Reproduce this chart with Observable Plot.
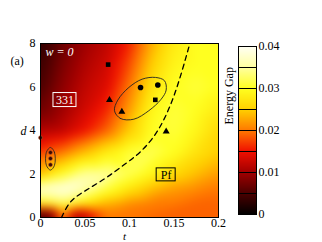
<!DOCTYPE html>
<html><head><meta charset="utf-8">
<script src="https://cdn.jsdelivr.net/npm/d3@7"></script>
<script src="https://cdn.jsdelivr.net/npm/@observablehq/plot@0.6"></script>
<style>
html,body{margin:0;padding:0;background:#fff;}
#wrap{position:relative;width:322px;height:242px;overflow:hidden;}
#wrap svg{position:absolute;top:0;}
</style></head>
<body><div id="wrap"></div>
<script>
// ---- data ----
const tGrid = [0, 0.025, 0.05, 0.075, 0.1, 0.125, 0.15, 0.175, 0.2];
const dRows = [8, 7, 6, 5, 4, 3, 2, 1.3, 0.6];
const gapD8   = [0.003, 0.007, 0.010, 0.012, 0.016, 0.023, 0.028, 0.030, 0.030];
const gapD7   = [0.004, 0.008, 0.011, 0.013, 0.018, 0.025, 0.029, 0.030, 0.030];
const gapD6   = [0.005, 0.009, 0.012, 0.014, 0.020, 0.027, 0.030, 0.031, 0.030];
const gapD5   = [0.007, 0.010, 0.013, 0.016, 0.022, 0.029, 0.031, 0.030, 0.028];
const gapD4   = [0.011, 0.012, 0.015, 0.019, 0.025, 0.030, 0.031, 0.029, 0.026];
const gapD3   = [0.017, 0.020, 0.024, 0.028, 0.031, 0.032, 0.030, 0.027, 0.025];
const gapD2   = [0.024, 0.030, 0.035, 0.035, 0.032, 0.029, 0.026, 0.024, 0.022];
const gapD13  = [0.038, 0.039, 0.036, 0.031, 0.027, 0.024, 0.022, 0.021, 0.020];
const gapD06  = [0.029, 0.032, 0.027, 0.023, 0.021, 0.020, 0.020, 0.019, 0.019];
const tBottom = [0, 0.0125, 0.025, 0.0375, 0.05, 0.0625, 0.075, 0.1, 0.125, 0.15, 0.175, 0.2];
const gapD03  = [0.008, 0.010, 0.026, 0.015, 0.015, 0.019, 0.021, 0.020, 0.020, 0.019, 0.019, 0.019];
const gapD0   = [0.005, 0.006, 0.020, 0.010, 0.011, 0.016, 0.020, 0.020, 0.019, 0.019, 0.019, 0.019];

const boundaryT = [0.0236, 0.0318, 0.0412, 0.0562, 0.0749, 0.0974, 0.1124, 0.1273, 0.1386, 0.1498, 0.1592, 0.1674];
const boundaryD = [0, 0.69, 1.0, 1.38, 1.84, 2.53, 2.99, 3.68, 4.45, 5.52, 6.74, 7.94];

const loopT = [0.0831, 0.0899, 0.1049, 0.1217, 0.1356, 0.1412, 0.1393, 0.1292, 0.1142, 0.0993, 0.0869];
const loopD = [4.91, 4.55, 4.52, 4.91, 5.44, 5.86, 6.29, 6.44, 6.36, 5.98, 5.40];
const smallLoopT = [0.0112, 0.0157, 0.0157, 0.0112, 0.0066, 0.0066];
const smallLoopD = [3.22, 3.0, 2.4, 2.18, 2.4, 3.0];

const squaresT = [0.076, 0.129];   const squaresD = [7.03, 5.41];
const circlesT = [0.1124, 0.1318]; const circlesD = [5.98, 6.09];
const trianglesT = [0.0775, 0.0914, 0.1412]; const trianglesD = [5.40, 4.86, 3.95];
const starsT = [0.0112, 0.0112, 0.0112, 0]; const starsD = [2.99, 2.71, 2.42, 3.67];

const xTicks = [0, 0.05, 0.1, 0.15, 0.2];
const xTickLabels = ["0", "0.05", "0.1", "0.15", "0.2"];
const yTicks = [0, 2, 4, 6, 8];
const cbTicks = [0, 0.01, 0.02, 0.03, 0.04];
const cbTickLabels = ["0", "0.01", "0.02", "0.03", "0.04"];
const cbLevels = [0.005, 0.01, 0.015, 0.02, 0.025, 0.03, 0.035];
const colorStops = [0, 0.005, 0.01, 0.015, 0.02, 0.025, 0.03, 0.035, 0.04];
const colorRange = ["#000000", "#4a0000", "#a00000", "#f01000", "#ff7800", "#ffd000", "#ffff20", "#ffffa0", "#fffff4"];

// ---- build tables ----
const rowsMain = [gapD8, gapD7, gapD6, gapD5, gapD4, gapD3, gapD2, gapD13, gapD06];
const field = [];
rowsMain.forEach((row, i) => row.forEach((g, j) => field.push({t: tGrid[j], d: dRows[i], gap: g})));
gapD03.forEach((g, j) => field.push({t: tBottom[j], d: 0.3, gap: g}));
gapD0.forEach((g, j) => field.push({t: tBottom[j], d: 0, gap: g}));
const boundary = boundaryT.map((t, i) => ({t, d: boundaryD[i]}));
const loop = loopT.map((t, i) => ({t, d: loopD[i]}));
const smallLoop = smallLoopT.map((t, i) => ({t, d: smallLoopD[i]}));
const squares = squaresT.map((t, i) => ({t, d: squaresD[i]}));
const circles = circlesT.map((t, i) => ({t, d: circlesD[i]}));
const triangles = trianglesT.map((t, i) => ({t, d: trianglesD[i]}));
const stars = starsT.map((t, i) => ({t, d: starsD[i]}));

const color = {type: "linear", domain: colorStops, range: colorRange, interpolate: "rgb"};
const font = "'Liberation Serif', 'DejaVu Serif', serif";

const main = Plot.plot({
  width: 230, height: 242,
  marginLeft: 40, marginRight: 12, marginTop: 43, marginBottom: 25,
  style: {fontFamily: font, fontSize: "12px", background: "transparent", color: "black"},
  x: {domain: [0, 0.2], ticks: xTicks, tickFormat: (d, i) => xTickLabels[i], tickSize: 0, tickPadding: 1, label: null},
  y: {domain: [0, 8], ticks: yTicks, tickSize: 0, tickPadding: 5, label: null},
  color,
  marks: [
    Plot.raster(field, {x: "t", y: "d", fill: "gap", interpolate: "barycentric", x1: 0, x2: 0.2, y1: 0, y2: 8, blur: 4}),
    Plot.line(boundary, {x: "t", y: "d", stroke: "black", strokeWidth: 1.3, strokeDasharray: "5,4", curve: "basis"}),
    Plot.line(loop, {x: "t", y: "d", stroke: "#222", strokeWidth: 0.9, curve: "catmull-rom-closed"}),
    Plot.line(smallLoop, {x: "t", y: "d", stroke: "#222", strokeWidth: 0.8, curve: "catmull-rom-closed"}),
    Plot.dot(squares, {x: "t", y: "d", symbol: "square", fill: "black", r: 2.6}),
    Plot.dot(circles, {x: "t", y: "d", symbol: "circle", fill: "black", r: 2.8}),
    Plot.dot(triangles, {x: "t", y: "d", symbol: "triangle", fill: "black", r: 2.6}),
    Plot.dot(stars, {x: "t", y: "d", fill: "#3a0800", stroke: "#c06030", strokeWidth: 0.5, r: 2}),
    Plot.text(["331"], {x: 0.0275, y: 5.4, fill: "white", fontSize: 12}),
    Plot.text(["Pf"], {x: 0.1412, y: 1.96, fill: "black", fontSize: 12}),
    Plot.text(["w = 0"], {frameAnchor: "top-left", dx: 5, dy: 4, fill: "white", fontStyle: "italic", fontSize: 12, textAnchor: "start"}),
    Plot.text(["(a)"], {frameAnchor: "top-left", dx: -30, dy: 13, fill: "black", fontSize: 12, textAnchor: "start"}),
    Plot.text(["d"], {frameAnchor: "left", dx: -20, dy: 1, fill: "black", fontStyle: "italic", fontSize: 12}),
    Plot.text(["t"], {frameAnchor: "bottom", dx: -5, dy: 22, fill: "black", fontStyle: "italic", fontSize: 11}),
    Plot.frame({stroke: "black", strokeWidth: 1})
  ]
});
main.style.left = "0px";

// boxes around labels
function addBox(svg, xv, yv, w, h, stroke) {
  const xs = svg.scale("x"), ys = svg.scale("y");
  const cx = xs.apply(xv), cy = ys.apply(yv);
  const r = document.createElementNS("http://www.w3.org/2000/svg", "rect");
  r.setAttribute("x", cx - w / 2); r.setAttribute("y", cy - h / 2);
  r.setAttribute("width", w); r.setAttribute("height", h);
  r.setAttribute("fill", "none"); r.setAttribute("stroke", stroke); r.setAttribute("stroke-width", 1);
  svg.appendChild(r);
}
addBox(main, 0.0275, 5.4, 23, 14, "white");
addBox(main, 0.1412, 1.96, 19, 13, "black");

const bar = Plot.plot({
  width: 100, height: 242,
  marginLeft: 16, marginRight: 66, marginTop: 46, marginBottom: 28,
  style: {fontFamily: font, fontSize: "12px", background: "transparent", color: "black"},
  x: {domain: [0, 1], axis: null},
  y: {domain: [0, 0.04], axis: "right", ticks: cbTicks, tickFormat: (d, i) => cbTickLabels[i], tickSize: 0, tickPadding: 2, label: null},
  color,
  marks: [
    Plot.raster({x1: 0, x2: 1, y1: 0, y2: 0.04, fill: (x, y) => y}),
    Plot.ruleY(cbLevels, {stroke: "black", strokeWidth: 1}),
    Plot.frame({stroke: "black", strokeWidth: 1}),
    Plot.text(["Energy Gap"], {frameAnchor: "left", dx: -9, dy: -6, rotate: -90, fontSize: 12, fill: "black"})
  ]
});
bar.style.left = "222px";

const wrap = document.getElementById("wrap");
wrap.appendChild(main);
wrap.appendChild(bar);
</script>
</body></html>
